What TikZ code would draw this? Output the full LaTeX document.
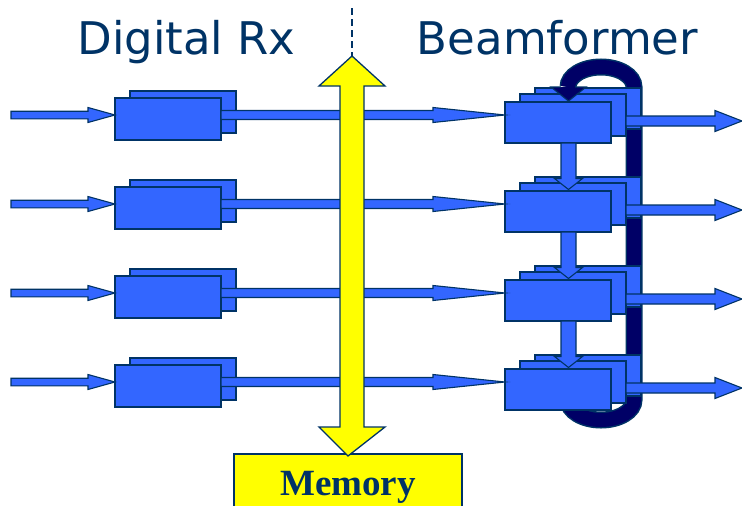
\documentclass[tikz,border=0pt]{standalone}
\usepackage{fontspec}
\setmainfont{DejaVu Sans}
\newfontfamily\memfont{Liberation Serif}
\usetikzlibrary{calc}
\definecolor{boxblue}{RGB}{51,102,255}
\definecolor{edgeblue}{RGB}{0,51,102}
\definecolor{loopnavy}{RGB}{0,0,102}
\definecolor{memyellow}{RGB}{255,255,0}
\definecolor{titleblue}{RGB}{0,51,102}
\tikzset{
  blkbox/.style={draw=edgeblue, fill=boxblue, line width=1.3pt, rectangle, inner sep=0pt, outer sep=0pt, anchor=north west, minimum width=106pt, minimum height=41pt},
  blkarrow/.style={draw=edgeblue, fill=boxblue, line width=1.1pt, line join=miter},
  yelarrow/.style={draw=edgeblue, fill=memyellow, line width=1.3pt, line join=miter},
  titletext/.style={text=titleblue, font=\fontsize{45}{54}\selectfont, anchor=base, inner sep=0pt},
}
\newcommand\rblk[5]{\draw[blkarrow] let \p1=#1, \p2=#2 in
  (\x1,\y2+#4) -- (\x2-#3,\y2+#4) -- (\x2-#3,\y2+#5) -- (\x2,\y2) -- (\x2-#3,\y2-#5) -- (\x2-#3,\y2-#4) -- (\x1,\y2-#4) -- cycle;}
\newcommand\dblk[5]{\draw[blkarrow] let \p1=#1, \p2=#2 in
  (\x2-#4,\y1) -- (\x2-#4,\y2+#3) -- (\x2-#5,\y2+#3) -- (\x2,\y2) -- (\x2+#5,\y2+#3) -- (\x2+#4,\y2+#3) -- (\x2+#4,\y1) -- cycle;}
\begin{document}
\begin{tikzpicture}[x=1pt,y=-1pt]
\useasboundingbox (0,0) rectangle (742,506);
\clip (0,0) rectangle (742,506);

% feedback loop band
\draw[edgeblue, line width=17pt] (568,385) -- (568,400) arc[start angle=180, end angle=0, x radius=33, y radius=20] -- (634,87) arc[start angle=0, end angle=-180, x radius=33, y radius=20];
\draw[loopnavy, line width=14pt] (568,385) -- (568,400) arc[start angle=180, end angle=0, x radius=33, y radius=20] -- (634,87) arc[start angle=0, end angle=-180, x radius=33, y radius=20];

% beamformer boxes
\foreach \i in {1,...,4} {
  \pgfmathsetmacro\F{102+89*(\i-1)}
  \node[blkbox] (bfb\i) at (535,\F-14) {};
  \node[blkbox, minimum height=42pt] (bfm\i) at (520,\F-8) {};
  \node[blkbox] (bff\i) at (505,\F) {};
}
% beamformer outputs
\foreach \i in {1,...,4} {
  \coordinate (bfo\i) at ($(bff\i.north west)+(237,19)$);
  \rblk{(bfm\i.east)}{(bfo\i)}{27pt}{5pt}{10.5pt}
}
% down arrows
\foreach \i/\j in {1/2,2/3,3/4} {
  \dblk{($(bff\i.south)+(10.5,0)$)}{($(bff\j.north)+(10.5,-1.5)$)}{11pt}{7.5pt}{14pt}
}
% loop arrowhead
\fill[loopnavy] (551,87) -- (586,87) -- (568.5,101) -- cycle;
\draw[edgeblue, line width=1.1pt, line join=miter] (575,87) -- (586,87) -- (568.5,101) -- (551,87) -- (561,87);

% digital rx
\foreach \i in {1,...,4} {
  \pgfmathsetmacro\T{98+89*(\i-1)}
  \node[blkbox, minimum height=42pt] (rxb\i) at (130,\T-7) {};
  \node[blkbox, minimum height=42pt] (rxf\i) at (115,\T) {};
  \coordinate (rxs\i) at (11,\T+17);
  \coordinate (rxt\i) at ($(rxf\i.north west)+(0,17)$);
  \rblk{(rxs\i)}{(rxt\i)}{27pt}{3.8pt}{7.5pt}
  \coordinate (bft\i) at ($(bff\i.north west)+(0,13)$);
  \rblk{(rxf\i.east)}{(bft\i)}{72pt}{4.5pt}{7.5pt}
}

% memory
\coordinate (dashtop) at (352,8);
\coordinate (memtop) at (352,56);
\draw[edgeblue, line width=1.5pt, dash pattern=on 7pt off 4pt] (dashtop) -- (memtop);
\node[draw=edgeblue, fill=memyellow, line width=1.3pt, anchor=north west, minimum width=228pt, minimum height=80pt, inner sep=0pt, outer sep=0pt] (mem) at (234,454) {};
\draw[yelarrow] let \p1=(memtop), \p2=($(mem.north)+(0,2)$) in
  (\x1,\y1) -- (\x1+33pt,\y1-30pt) -- (\x1+12pt,\y1-30pt) -- (\x1+12pt,\y2+29pt) -- (\x1+33pt,\y2+29pt) -- (\x2,\y2) -- (\x1-33pt,\y2+29pt) -- (\x1-12pt,\y2+29pt) -- (\x1-12pt,\y1-30pt) -- (\x1-33pt,\y1-30pt) -- cycle;
\node[anchor=base, text=edgeblue, font=\memfont\bfseries\fontsize{37}{44}\selectfont, inner sep=0pt] (memtxt) at (348,495) {Memory};

% titles
\node[titletext] (trx) at (186.5,54) {Digital Rx};
\node[titletext] (tbf) at (557.5,54) {Beamformer};
\end{tikzpicture}
\end{document}
